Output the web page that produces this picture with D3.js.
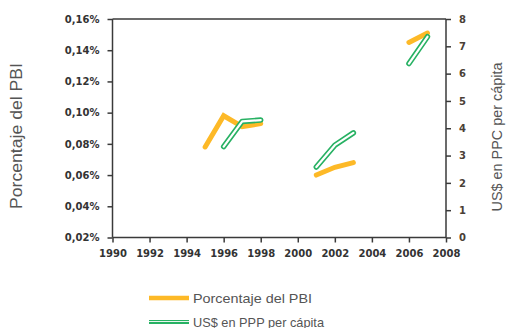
<!DOCTYPE html>
<html><head><meta charset="utf-8">
<script src="https://cdn.jsdelivr.net/npm/d3@7"></script>
<style>
html,body{margin:0;padding:0;background:#fff;}
svg{display:block;}
</style></head>
<body>
<svg id="c" width="532" height="328"></svg>
<script>
const years = [1995,1996,1997,1998,1999,2000,2001,2002,2003,2004,2005,2006,2007];
const pbiPct = [0.078,0.098,0.091,0.093,null,null,0.060,0.065,0.068,null,null,0.145,0.151];
const usdPpp = [null,3.33,4.25,4.30,null,null,2.58,3.38,3.83,null,null,6.37,7.35];
const xTicks = [1990,1992,1994,1996,1998,2000,2002,2004,2006,2008];
const leftTicks = [0.02,0.04,0.06,0.08,0.10,0.12,0.14,0.16];
const rightTicks = [0,1,2,3,4,5,6,7,8];
const legendLabels = ["Porcentaje del PBI","US$ en PPP per cápita"];
const leftTitle = "Porcentaje del PBI";
const rightTitle = "US$ en PPC per cápita";

const orange = "#FDB927", green = "#27B163", axisCol = "#3a3a3a";
const svg = d3.select("#c");
const L = 112.5, R = 446, T = 19, B = 237.5;
const x = d3.scaleLinear().domain([1990,2008]).range([L,R]);
const yL = d3.scaleLinear().domain([0.02,0.16]).range([B,T]);
const yR = d3.scaleLinear().domain([0,8]).range([B,T]);

const tickFont = "bold 10px 'DejaVu Sans', Verdana, sans-serif";

svg.append("line").attr("x1",L).attr("x2",R).attr("y1",T).attr("y2",T)
  .attr("stroke",axisCol).attr("stroke-width",1.5);

const gL = svg.append("g").attr("transform",`translate(${L},0)`)
  .call(d3.axisLeft(yL).tickValues(leftTicks).tickSize(5).tickPadding(8)
    .tickFormat(d => d3.format(".2f")(d).replace(".",",") + "%"));
const gR = svg.append("g").attr("transform",`translate(${R},0)`)
  .call(d3.axisRight(yR).tickValues(rightTicks).tickSize(5).tickPadding(8));
const gB = svg.append("g").attr("transform",`translate(0,${B})`)
  .call(d3.axisBottom(x).tickValues(xTicks).tickSize(5).tickPadding(7).tickFormat(d3.format("d")));
[gL,gR,gB].forEach(g=>{
  g.selectAll("path.domain").attr("stroke",axisCol).attr("stroke-width",1.5);
  g.selectAll(".tick line").attr("stroke",axisCol).attr("stroke-width",1.5);
  g.selectAll("text").attr("fill","#333").style("font",tickFont);
});
gR.selectAll("text").attr("fill","#4a4036");
gL.select("path.domain").attr("d",`M0,${T}V${B}`);
gR.select("path.domain").attr("d",`M0,${T}V${B}`);
gB.select("path.domain").attr("d",`M${L},0H${R}`);

const idx = d3.range(years.length);
const lineL = d3.line().defined(i=>pbiPct[i]!=null).x(i=>x(years[i])).y(i=>yL(pbiPct[i]));
const lineR = d3.line().defined(i=>usdPpp[i]!=null).x(i=>x(years[i])).y(i=>yR(usdPpp[i]));

svg.append("path").attr("d",lineL(idx)).attr("fill","none").attr("stroke",orange)
  .attr("stroke-width",5).attr("stroke-linecap","round").attr("stroke-linejoin","miter");
svg.append("path").attr("d",lineR(idx)).attr("fill","none").attr("stroke",green)
  .attr("stroke-width",5.5).attr("stroke-linecap","round").attr("stroke-linejoin","round");
svg.append("path").attr("d",lineR(idx)).attr("fill","none").attr("stroke","#fff")
  .attr("stroke-width",2.2).attr("stroke-linecap","round").attr("stroke-linejoin","round");

svg.append("text").attr("transform","translate(22,136) rotate(-90)")
  .attr("text-anchor","middle").attr("fill","#555")
  .style("font","16px 'Liberation Sans', Arial, sans-serif")
  .attr("textLength",146).attr("lengthAdjust","spacingAndGlyphs").text(leftTitle);
svg.append("text").attr("transform","translate(502,137) rotate(-90)")
  .attr("text-anchor","middle").attr("fill","#555")
  .style("font","15px 'Liberation Sans', Arial, sans-serif")
  .attr("textLength",149).attr("lengthAdjust","spacingAndGlyphs").text(rightTitle);

const lg = svg.append("g");
lg.append("line").attr("x1",149).attr("x2",189).attr("y1",298).attr("y2",298)
  .attr("stroke",orange).attr("stroke-width",4.5);
lg.append("line").attr("x1",149).attr("x2",189).attr("y1",322).attr("y2",322)
  .attr("stroke",green).attr("stroke-width",4);
lg.append("line").attr("x1",149).attr("x2",189).attr("y1",321.5).attr("y2",321.5)
  .attr("stroke","#e8f6ee").attr("stroke-width",1.2);
const legLens = [119,131];
lg.selectAll("text.lg").data(legendLabels).join("text").attr("class","lg")
  .attr("x",193).attr("y",(d,i)=>303+i*23.5).attr("fill","#555")
  .attr("textLength",(d,i)=>legLens[i]).attr("lengthAdjust","spacingAndGlyphs")
  .style("font","13px 'Liberation Sans', Arial, sans-serif").text(d=>d);
</script>
</body></html>
